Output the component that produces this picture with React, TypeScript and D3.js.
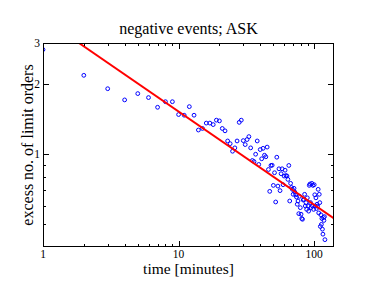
import React from "react";
import * as d3 from "d3";

const title = "negative events; ASK";
const xLabel = "time [minutes]";
const yLabel = "excess no. of limit orders";

// time in minutes (1..120)
const minutes: number[] = Array.from({ length: 120 }, (_, i) => i + 1);

// excess number of limit orders
const excess: number[] = [
  2.81, 2.18, 1.91, 1.71, 1.82, 1.75, 1.59, 1.68, 1.68, 1.48,
  1.47, 1.60, 1.47, 1.27, 1.29, 1.36, 1.36, 1.34, 1.40, 1.39,
  1.29, 1.26, 1.14, 1.11, 1.03, 1.065, 1.14, 1.37, 1.40, 1.144,
  1.10, 1.156, 1.19, 1.065, 0.94, 0.93, 1.0, 1.14, 0.904, 1.047,
  0.956, 1.06, 0.99, 0.975, 1.073, 0.86, 0.693, 0.895, 0.897, 0.735,
  0.833, 0.624, 0.971, 0.73, 0.866, 0.698, 0.825, 0.866, 0.74, 0.806,
  0.854, 0.81, 0.806, 0.78, 0.895, 0.63, 0.75, 0.72, 0.707, 0.673,
  0.714, 0.688, 0.67, 0.655, 0.61, 0.63, 0.556, 0.66, 0.59, 0.553,
  0.53, 0.526, 0.636, 0.64, 0.673, 0.60, 0.62, 0.58, 0.65, 0.60,
  0.57, 0.735, 0.745, 0.62, 0.59, 0.75, 0.60, 0.735, 0.58, 0.74,
  0.67, 0.60, 0.65, 0.585, 0.61, 0.598, 0.707, 0.56, 0.673, 0.62,
  0.49, 0.55, 0.50, 0.53, 0.477, 0.454, 0.535, 0.52, 0.54, 0.43,
];

// power-law fit line endpoints
const fitX: number[] = [1.84, 140];
const fitY: number[] = [3.0, 0.53];

const xDomain: [number, number] = [1, 140];
const yDomain: [number, number] = [0.4, 3];
const xMajorTicks: number[] = [1, 10, 100];
const xMinorTicks: number[] = [2, 3, 4, 5, 6, 7, 8, 9, 20, 30, 40, 50, 60, 70, 80, 90];
const yMajorTicks: number[] = [1, 2, 3];
const yMinorTicks: number[] = [0.5, 0.6, 0.7, 0.8, 0.9];

const W = 376;
const H = 291;
const L = 43, R = 334, T = 43, B = 247;
const FONT = "'Liberation Serif', 'Times New Roman', serif";

export default function App() {
  const x = d3.scaleLog().domain(xDomain).range([L, R]);
  const y = d3.scaleLog().domain(yDomain).range([B, T]);
  const line = d3.line<number>().x((_, i) => x(fitX[i])).y((d) => y(d));
  const major = 6, minor = 3;

  return (
    <svg width={W} height={H} style={{ position: "absolute", left: 0, top: 0, background: "#fff" }}>
      <defs>
        <clipPath id="plot">
          <rect x={L} y={T} width={R - L} height={B - T} />
        </clipPath>
      </defs>
      <rect x={0} y={0} width={W} height={H} fill="#fff" />
      <g clipPath="url(#plot)">
        {minutes.map((m, i) => (
          <circle key={i} cx={x(m)} cy={y(excess[i])} r={1.9} fill="none" stroke="#0000ff" strokeWidth={1} />
        ))}
        <path d={line(fitY) || ""} fill="none" stroke="#ff0000" strokeWidth={2} />
      </g>
      <rect x={L + 0.5} y={T + 0.5} width={R - L - 1} height={B - T - 1} fill="none" stroke="#000" strokeWidth={1} />
      {/* x ticks */}
      {xMajorTicks.map((t) => (
        <g key={"xM" + t}>
          <line x1={Math.round(x(t)) + 0.5} x2={Math.round(x(t)) + 0.5} y1={B} y2={B - major} stroke="#000" />
          <line x1={Math.round(x(t)) + 0.5} x2={Math.round(x(t)) + 0.5} y1={T} y2={T + major} stroke="#000" />
          <text x={x(t)} y={257.5} textAnchor="middle" fontFamily={FONT} fontSize={11.5}>{t}</text>
        </g>
      ))}
      {xMinorTicks.map((t) => (
        <g key={"xm" + t}>
          <line x1={Math.round(x(t)) + 0.5} x2={Math.round(x(t)) + 0.5} y1={B} y2={B - minor} stroke="#000" />
          <line x1={Math.round(x(t)) + 0.5} x2={Math.round(x(t)) + 0.5} y1={T} y2={T + minor} stroke="#000" />
        </g>
      ))}
      {/* y ticks */}
      {yMajorTicks.map((t) => (
        <g key={"yM" + t}>
          <line x1={L} x2={L + major} y1={Math.round(y(t)) + 0.5} y2={Math.round(y(t)) + 0.5} stroke="#000" />
          <line x1={R} x2={R - major} y1={Math.round(y(t)) + 0.5} y2={Math.round(y(t)) + 0.5} stroke="#000" />
          <text x={40} y={y(t) + 4} textAnchor="end" fontFamily={FONT} fontSize={11.5}>{t}</text>
        </g>
      ))}
      {yMinorTicks.map((t) => (
        <g key={"ym" + t}>
          <line x1={L} x2={L + minor} y1={Math.round(y(t)) + 0.5} y2={Math.round(y(t)) + 0.5} stroke="#000" />
          <line x1={R} x2={R - minor} y1={Math.round(y(t)) + 0.5} y2={Math.round(y(t)) + 0.5} stroke="#000" />
        </g>
      ))}
      <text x={(L + R) / 2} y={34} textAnchor="middle" fontFamily={FONT} fontSize={16}>{title}</text>
      <text x={(L + R) / 2} y={274} textAnchor="middle" fontFamily={FONT} fontSize={15.5}>{xLabel}</text>
      <text transform={`translate(33,${(T + B) / 2}) rotate(-90)`} textAnchor="middle" fontFamily={FONT} fontSize={16}>{yLabel}</text>
    </svg>
  );
}
